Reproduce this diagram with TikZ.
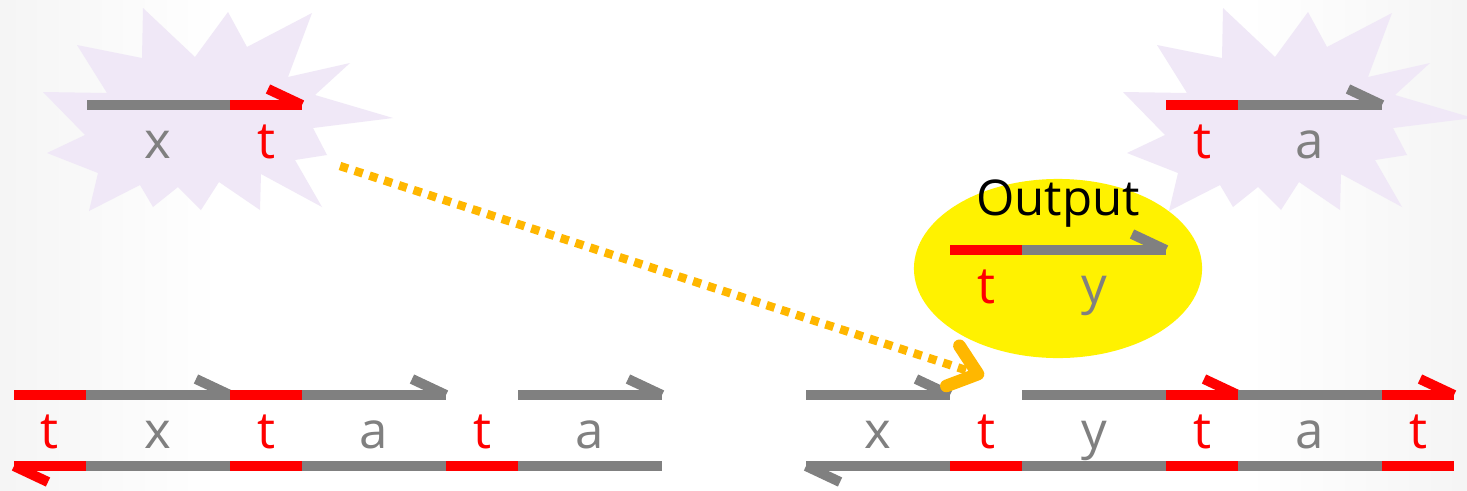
\documentclass[tikz,border=0pt]{standalone}
\usepackage{fontspec}
\setmainfont{Open Sans}
\usetikzlibrary{arrows.meta}
\usetikzlibrary{decorations.markings}
\definecolor{sgray}{RGB}{128,128,128}
\definecolor{lilac}{RGB}{240,232,247}
\definecolor{amber}{RGB}{255,183,0}
\tikzset{gr/.style = {draw=sgray, line width=2.85pt}}
\tikzset{rd/.style = {draw=red, line width=2.85pt}}
\tikzset{hook/.style = {decoration={markings,
                                    mark=at position 0.9999
                                    with {\draw[line width=2.85pt, #1] (0,0) -- (-34,16);}},
                        postaction={decorate}}}
\tikzset{lbl/.style = {anchor=base, inner sep=0, font=\fontsize{14.5}{16}\selectfont}}
\tikzset{tg/.style = {lbl, text=sgray}, tr/.style = {lbl, text=red}}
\tikzset{pics/burst/.style = {code={
  \fill[lilac] (143,482) -- (195,433) -- (228,478) -- (247,443) -- (312,477)
    -- (288,413) -- (350,427) -- (315,395) -- (393,372) -- (313,362)
    -- (327,335) -- (295,330) -- (322,283) -- (261,316) -- (260,280)
    -- (219,308) -- (201,280) -- (178,303) -- (153,283) -- (140,305)
    -- (89,279) -- (98,317) -- (47,337) -- (85,355) -- (43,398)
    -- (107,397) -- (77,445) -- (142,432) -- cycle;}}}

\begin{document}
\begin{tikzpicture}[x=0.01cm, y=0.01cm]
  \fill[white] (0,0) rectangle (1467,490);
  \shade[left color=black!4, right color=white] (0,0) rectangle (220,490);
  \shade[left color=white, right color=black!4] (1247,0) rectangle (1467,490);
  \useasboundingbox (0,0) rectangle (1467,490);
  % the two bursts
  \pic (lburst) at (0,0) {burst};
  \pic (rburst) at (1080,0) {burst};
  \draw[gr] (87,385) -- (230,385);
  \draw[rd, hook=red] (230,385) -- (302,385);
  \node[tg] (lb-x) at (158,332) {x};
  \node[tr] (lb-t) at (266,332) {t};
  \draw[rd] (1166,385) -- (1238,385);
  \draw[gr, hook=sgray] (1238,385) -- (1382,385);
  \node[tr] (rb-t) at (1202,332) {t};
  \node[tg] (rb-a) at (1310,332) {a};
  % output
  \fill[yellow] (1058,221.5) ellipse [x radius=1.44cm, y radius=0.895cm];
  \node[lbl, text=black, font=\fontsize{14}{16}\selectfont] (outtxt) at (1058,275) {Output};
  \draw[rd] (950,240) -- (1022,240);
  \draw[gr, hook=sgray] (1022,240) -- (1166,240);
  \node[tr] (out-t) at (986,187) {t};
  \node[tg] (out-y) at (1094,187) {y};
  % left duplex
  \draw[rd] (14,95) -- (86,95);
  \draw[gr, hook=sgray] (86,95) -- (230,95);
  \draw[rd] (230,95) -- (302,95);
  \draw[gr, hook=sgray] (302,95) -- (446,95);
  \draw[gr, hook=sgray] (518,95) -- (662,95);
  \draw[rd, hook=red] (86,24) -- (14,24);
  \draw[gr] (86,24) -- (230,24);
  \draw[rd] (230,24) -- (302,24);
  \draw[gr] (302,24) -- (446,24);
  \draw[rd] (446,24) -- (518,24);
  \draw[gr] (518,24) -- (662,24);
  \node[tr] (l1) at (50,42) {t};
  \node[tg] (l2) at (158,42) {x};
  \node[tr] (l3) at (266,42) {t};
  \node[tg] (l4) at (374,42) {a};
  \node[tr] (l5) at (482,42) {t};
  \node[tg] (l6) at (590,42) {a};
  % right duplex
  \draw[gr, hook=sgray] (806,95) -- (950,95);
  \draw[gr] (1022,95) -- (1166,95);
  \draw[rd, hook=red] (1166,95) -- (1238,95);
  \draw[gr] (1238,95) -- (1382,95);
  \draw[rd, hook=red] (1382,95) -- (1454,95);
  \draw[gr, hook=sgray] (950,24) -- (806,24);
  \draw[rd] (950,24) -- (1022,24);
  \draw[gr] (1022,24) -- (1166,24);
  \draw[rd] (1166,24) -- (1238,24);
  \draw[gr] (1238,24) -- (1382,24);
  \draw[rd] (1382,24) -- (1454,24);
  \node[tg] (r1) at (878,42) {x};
  \node[tr] (r2) at (986,42) {t};
  \node[tg] (r3) at (1094,42) {y};
  \node[tr] (r4) at (1202,42) {t};
  \node[tg] (r5) at (1310,42) {a};
  \node[tr] (r6) at (1418,42) {t};
  % insertion
  \coordinate (src) at (340,324);
  \coordinate (gap) at (984,114);
  \draw[amber, line width=2.4pt, dash pattern=on 2.4pt off 2pt,
        -{Straight Barb[length=7.5pt, width=12pt, line width=3.6pt, round]}] (src) -- (gap);
\end{tikzpicture}
\end{document}
